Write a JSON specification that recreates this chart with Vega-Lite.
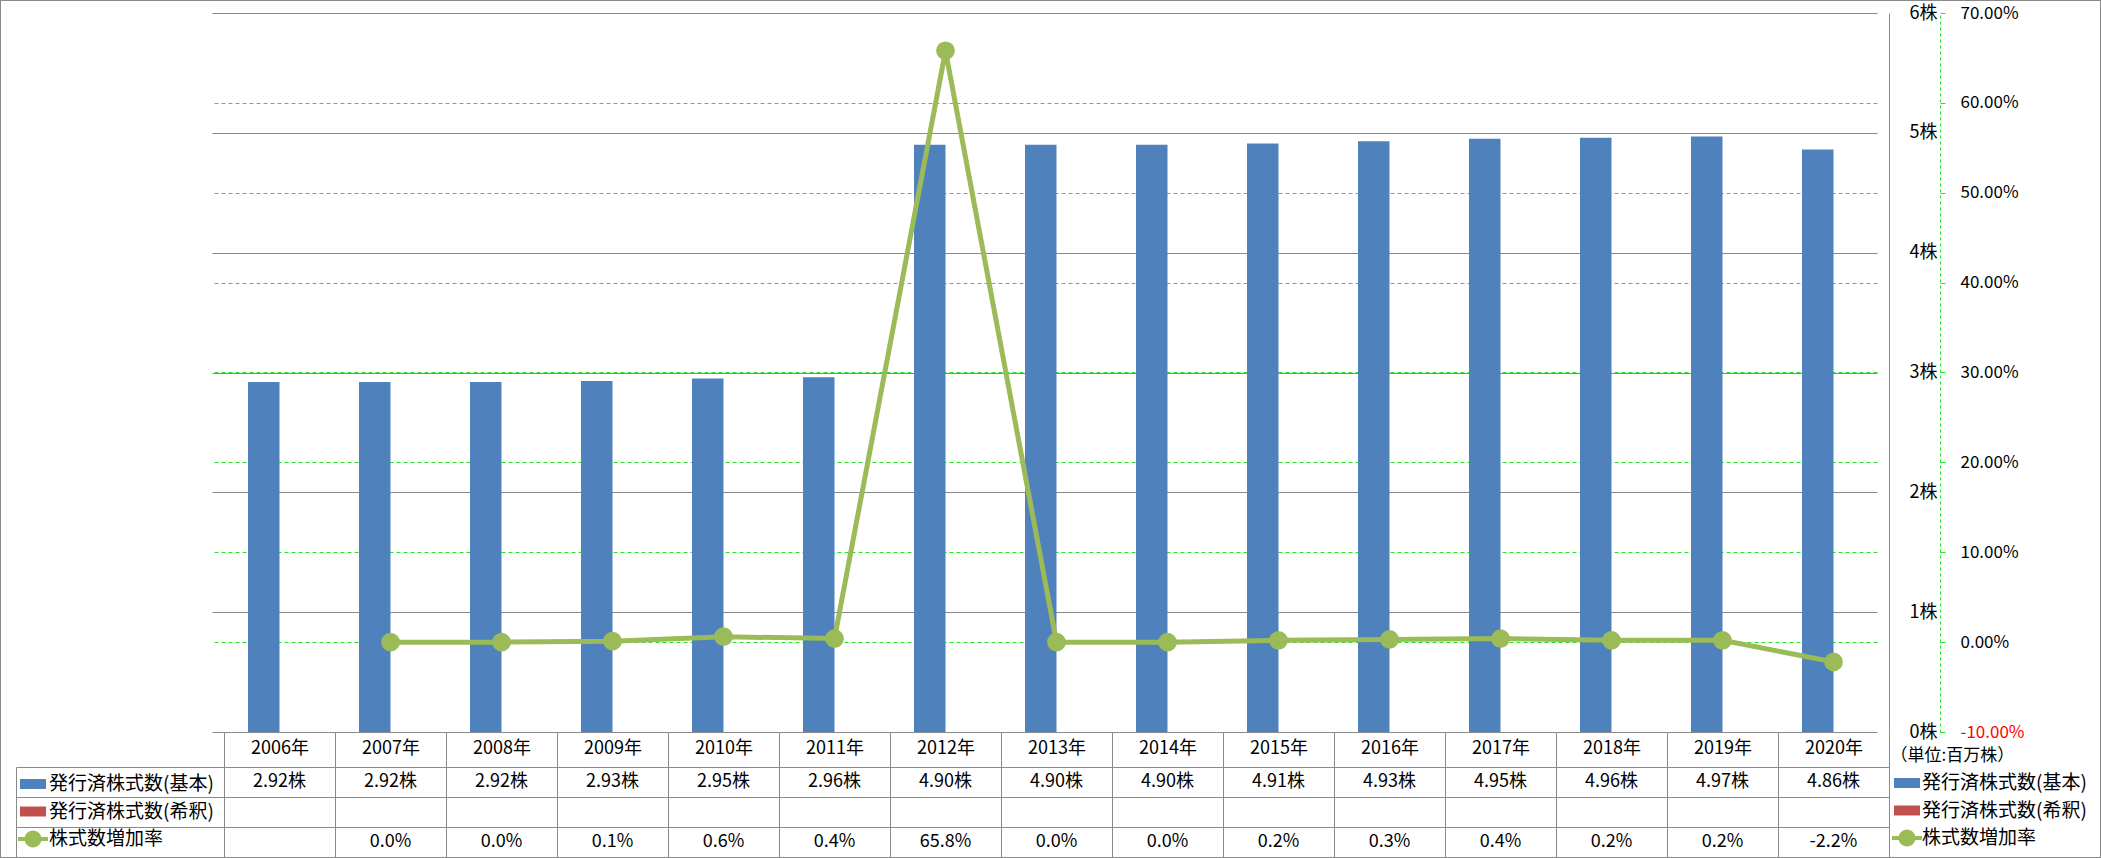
{
  "$schema": "https://vega.github.io/schema/vega-lite/v6.json",
  "width": 2101,
  "height": 858,
  "autosize": {"type": "none"},
  "padding": 0,
  "background": "#ffffff",
  "config": {
    "view": {"stroke": "#898989", "strokeWidth": 2},
    "font": "Noto Sans CJK JP",
    "axis": {"labelFont": "Noto Sans CJK JP", "titleFont": "Noto Sans CJK JP", "domainWidth": 1, "tickWidth": 1, "gridWidth": 1},
    "legend": {"labelFont": "Noto Sans CJK JP"},
    "locale": {"number": {"decimal": ".", "thousands": ",", "grouping": [3], "currency": ["", "株"], "minus": "-"}}
  },
  "data": {"values": [
    {"year": "2006年", "shares": 2.92, "rate": null},
    {"year": "2007年", "shares": 2.92, "rate": 0.000},
    {"year": "2008年", "shares": 2.92, "rate": 0.000},
    {"year": "2009年", "shares": 2.93, "rate": 0.001},
    {"year": "2010年", "shares": 2.95, "rate": 0.006},
    {"year": "2011年", "shares": 2.96, "rate": 0.004},
    {"year": "2012年", "shares": 4.90, "rate": 0.658},
    {"year": "2013年", "shares": 4.90, "rate": 0.000},
    {"year": "2014年", "shares": 4.90, "rate": 0.000},
    {"year": "2015年", "shares": 4.91, "rate": 0.002},
    {"year": "2016年", "shares": 4.93, "rate": 0.003},
    {"year": "2017年", "shares": 4.95, "rate": 0.004},
    {"year": "2018年", "shares": 4.96, "rate": 0.002},
    {"year": "2019年", "shares": 4.97, "rate": 0.002},
    {"year": "2020年", "shares": 4.86, "rate": -0.022}
  ]},
  "resolve": {"scale": {"x": "independent", "y": "independent"}},
  "layer": [
    {
      "mark": {"type": "bar"},
      "encoding": {
        "x": {"field": "year", "type": "nominal", "sort": null,
          "scale": {"range": [224, 1889], "paddingInner": 0, "paddingOuter": 0},
          "axis": {"orient": "bottom", "offset": -91, "tickBand": "extent", "tickSize": -35, "tickColor": "#898989", "domainColor": "#898989", "labelPadding": 16, "labelBaseline": "middle", "labelAngle": 0, "labelFontSize": 18, "labelColor": "#000000", "title": null, "grid": false}},
        "xOffset": {"datum": "基本", "scale": {"domain": ["基本", "希釈"], "paddingInner": 0, "paddingOuter": 0.762}},
        "y": {"field": "shares", "type": "quantitative",
          "scale": {"domain": [0, 6], "range": [732, 13], "nice": false, "zero": true},
          "axis": {"orient": "right", "offset": -212, "values": [0, 1, 2, 3, 4, 5, 6], "format": "$d", "grid": true, "gridColor": "#898989", "domain": true, "domainColor": "#898989", "ticks": false, "labelPadding": 48, "labelAlign": "right", "labelFontSize": 18, "labelColor": "#000000",
            "title": "（単位:百万株）", "titleAngle": 0, "titleX": 1, "titleY": 755, "titleAlign": "left", "titleBaseline": "middle", "titleFontSize": 17, "titleFontWeight": "normal", "titleColor": "#000000"}},
        "color": {"datum": "基本",
          "scale": {"domain": ["基本", "希釈", "率"], "range": ["#4F81BD", "#C0504D", "#9BBB59"]},
          "legend": {"orient": "none", "legendX": 18, "legendY": 769, "title": null, "padding": 0, "rowPadding": 2.5, "symbolSize": 900, "labelFontSize": 19, "labelColor": "#000000", "labelOffset": 1, "labelLimit": 400,
            "labelExpr": "datum.label === '率' ? '株式数増加率' : datum.label === '希釈' ? '発行済株式数(希釈)' : '発行済株式数(基本)'",
            "symbolType": "M-0.867,-0.333H0.867V0.333H-0.867Z", "symbolStrokeWidth": 0,
            "encode": {"symbols": {"update": {
              "shape": {"signal": "datum.value === '率' ? 'M-1,-0.133H1V0.133H-1Z M-0.567,0A0.567,0.567,0,1,1,0.567,0A0.567,0.567,0,1,1,-0.567,0Z' : 'M-0.867,-0.333H0.867V0.333H-0.867Z'"},
              "fill": {"signal": "datum.value === '率' ? '#9BBB59' : datum.value === '希釈' ? '#C0504D' : '#4F81BD'"},
              "stroke": {"value": "transparent"},
              "strokeWidth": {"value": 0},
              "size": {"value": 900},
              "opacity": {"value": 1}
            }}}}}
      }
    },
    {
      "mark": {"type": "line", "strokeWidth": 5, "point": {"filled": true, "size": 280, "fill": "#9BBB59", "opacity": 1}},
      "encoding": {
        "x": {"field": "year", "type": "nominal", "sort": null,
          "scale": {"range": [224, 1889], "paddingInner": 0, "paddingOuter": 0}, "axis": null},
        "y": {"field": "rate", "type": "quantitative",
          "scale": {"domain": [-0.1, 0.7], "range": [732, 13], "nice": false, "zero": false},
          "axis": {"orient": "right", "offset": -161, "values": [-0.1, 0, 0.1, 0.2, 0.3, 0.4, 0.5, 0.6, 0.7], "format": ".2%",
            "grid": true, "gridColor": "#22E622", "gridDash": [4, 3],
            "gridOpacity": {"condition": {"test": "datum.value < -0.05 || datum.value > 0.65", "value": 0}, "value": 1},
            "domainColor": "#22E622", "domainDash": [3, 3], "tickColor": "#22E622", "tickSize": 5, "labelPadding": 15, "labelFontSize": 17,
            "labelColor": {"condition": {"test": "datum.value < 0", "value": "#FF0000"}, "value": "#000000"}, "title": null}},
        "stroke": {"datum": "株式数増加率",
          "scale": {"domain": ["発行済株式数(基本)", "発行済株式数(希釈)", "株式数増加率"], "range": ["#4F81BD", "#C0504D", "#9BBB59"]},
          "legend": {"orient": "none", "legendX": 1892, "legendY": 768, "title": null, "padding": 0, "rowPadding": 2.5, "symbolSize": 900, "labelFontSize": 19, "labelColor": "#000000", "labelOffset": 0, "labelLimit": 400,
            "symbolType": "M-0.867,-0.333H0.867V0.333H-0.867Z", "symbolStrokeWidth": 0,
            "encode": {"symbols": {"update": {
              "shape": {"signal": "datum.value === '株式数増加率' ? 'M-1,-0.133H1V0.133H-1Z M-0.567,0A0.567,0.567,0,1,1,0.567,0A0.567,0.567,0,1,1,-0.567,0Z' : 'M-0.867,-0.333H0.867V0.333H-0.867Z'"},
              "fill": {"signal": "datum.value === '株式数増加率' ? '#9BBB59' : datum.value === '発行済株式数(希釈)' ? '#C0504D' : '#4F81BD'"},
              "stroke": {"value": "transparent"},
              "strokeWidth": {"value": 0},
              "size": {"value": 900},
              "opacity": {"value": 1}
            }}}}}
      }
    },
    {
      "layer": [
        {
          "mark": {"type": "text", "fontSize": 18, "font": "Noto Sans CJK JP", "color": "#000000"},
          "encoding": {
            "x": {"field": "year", "type": "nominal", "sort": null,
              "scale": {"range": [224, 1889], "paddingInner": 0, "paddingOuter": 0},
              "axis": {"orient": "bottom", "offset": -1, "tickBand": "extent", "tickSize": -90, "tickColor": "#898989", "domainColor": "#898989", "labels": false, "title": null, "grid": false}},
            "y": {"datum": "基本", "type": "nominal",
              "scale": {"domain": ["基本", "希釈", "率"], "range": [767, 857], "paddingInner": 0, "paddingOuter": 0},
              "axis": {"orient": "left", "offset": -16, "tickBand": "extent", "tickSize": -1873, "tickColor": "#898989", "domainColor": "#898989", "labels": false, "title": null, "grid": false}},
            "text": {"field": "shares", "type": "quantitative", "format": "$.2f"}
          }
        },
        {
          "transform": [{"filter": "isValid(datum.rate)"}],
          "mark": {"type": "text", "fontSize": 18, "font": "Noto Sans CJK JP", "color": "#000000"},
          "encoding": {
            "x": {"field": "year", "type": "nominal", "sort": null,
              "scale": {"range": [224, 1889], "paddingInner": 0, "paddingOuter": 0},
              "axis": {"orient": "bottom", "offset": -1, "tickBand": "extent", "tickSize": -90, "tickColor": "#898989", "domainColor": "#898989", "labels": false, "title": null, "grid": false}},
            "y": {"datum": "率", "type": "nominal",
              "scale": {"domain": ["基本", "希釈", "率"], "range": [767, 857], "paddingInner": 0, "paddingOuter": 0},
              "axis": {"orient": "left", "offset": -16, "tickBand": "extent", "tickSize": -1873, "tickColor": "#898989", "domainColor": "#898989", "labels": false, "title": null, "grid": false}},
            "text": {"field": "rate", "type": "quantitative", "format": ".1%"}
          }
        }
      ]
    }
  ]
}
